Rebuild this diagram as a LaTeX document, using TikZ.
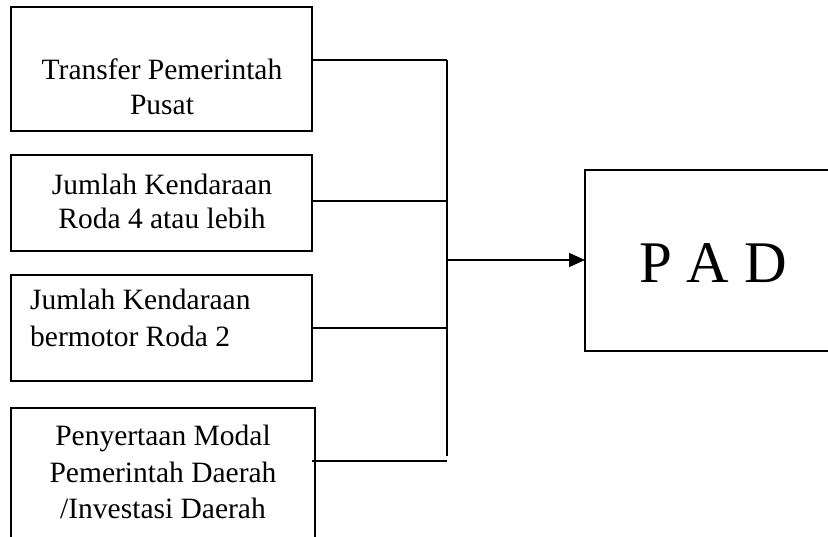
\documentclass[tikz,border=0pt]{standalone}
\usepackage{fontspec}
\setmainfont{Liberation Serif}
\usetikzlibrary{arrows.meta}
\begin{document}
\begin{tikzpicture}[x=1bp,y=-1bp,
  box/.style={draw,line width=1.4bp,minimum width=301bp,inner sep=0pt,outer sep=0pt,anchor=north west},
  lbl/.style={font=\fontsize{29.5bp}{33bp}\selectfont,inner sep=0pt,anchor=base},
  lbll/.style={font=\fontsize{29.5bp}{33bp}\selectfont,inner sep=0pt,anchor=base west},
  conn/.style={line width=1.4bp}]
\useasboundingbox (0,0) rectangle (828,537);
\fill[white] (0,0) rectangle (828,537);
\clip (0,0) rectangle (828,537);
% boxes
\node[box,minimum height=124bp] (b1) at (11,7) {};
\node[box,minimum height=96bp] (b2) at (11,155) {};
\node[box,minimum height=106bp] (b3) at (11,275) {};
\node[box,minimum width=304bp,minimum height=160bp] (b4) at (11,408) {};
\node[draw,line width=1.4bp,inner sep=0pt,outer sep=0pt,minimum width=270bp,minimum height=181bp,anchor=north west] (pad) at (585,170) {};
% texts
\node[lbl] (t1a) at (162,80) {Transfer Pemerintah};
\node[lbl] (t1b) at (162,115) {Pusat};
\node[lbl] (t2a) at (162,195) {Jumlah Kendaraan};
\node[lbl] (t2b) at (162,229) {Roda 4 atau lebih};
\node[lbll] (t3a) at (30,310) {Jumlah Kendaraan};
\node[lbll] (t3b) at (30,346) {bermotor Roda 2};
\node[lbl] (t4a) at (163,445) {Penyertaan Modal};
\node[lbl] (t4b) at (163,482) {Pemerintah Daerah};
\node[lbl] (t4c) at (163,518) {/Investasi Daerah};
\node[font=\fontsize{59bp}{60bp}\selectfont,inner sep=0pt,anchor=base] (tp) at (713,283) {P A D};
% bus
\coordinate (j1) at (447,60);
\coordinate (j2) at (447,201);
\coordinate (j3) at (447,328);
\coordinate (j4) at (447,461);
\coordinate (jb) at (447,456);
\coordinate (ja) at (447,260);
\draw[conn] (j1) -- (jb);
\draw[conn] (b1.east |- j1) -- (j1);
\draw[conn] (b2.east |- j2) -- (j2);
\draw[conn] (b3.east |- j3) -- (j3);
\draw[conn] (312,461) -- (j4);
\draw[conn,-{Triangle[length=16bp,width=14bp]}] (ja) -- (pad.west |- ja);
\end{tikzpicture}
\end{document}
